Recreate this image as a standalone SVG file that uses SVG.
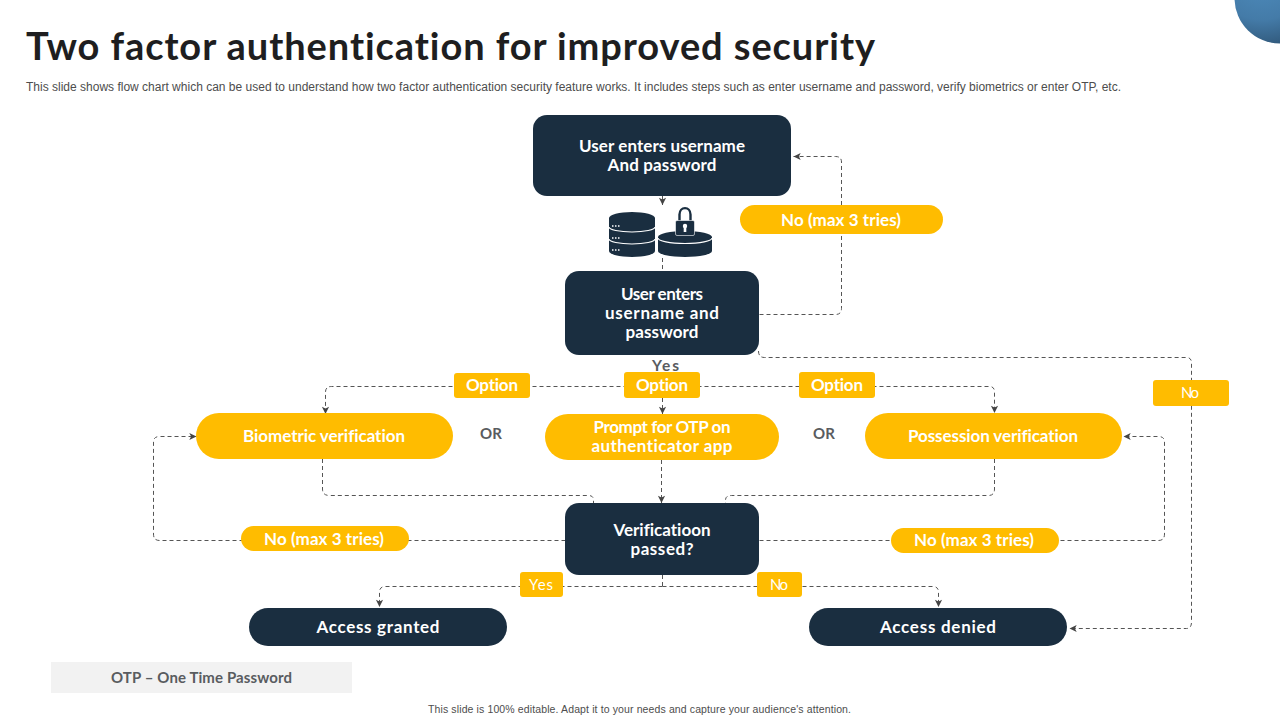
<svg xmlns="http://www.w3.org/2000/svg" width="1280" height="720" viewBox="0 0 1280 720">
<style>
text{font-family:"Lato","Open Sans","Liberation Sans",sans-serif;text-anchor:middle;font-variant-ligatures:none}
.dark{fill:#1a2e40}
.gold{fill:#ffbc00}
.t{fill:#fff;font-size:17px;font-weight:700}
.s{fill:#fff;font-size:15px;font-weight:400}
.g{fill:#595c60;font-size:15px;font-weight:700}
.c{fill:none;stroke:#555;stroke-width:1;stroke-dasharray:4 3}
.sm{font-family:"Liberation Sans",Arial,sans-serif;fill:#4d4d4d;font-size:12px;text-anchor:start}
.w{fill:none;stroke:#fff;stroke-width:1.200}
</style>
<defs>
<marker id="a" viewBox="0 0 10 10" refX="9" refY="5" markerWidth="9" markerHeight="9" markerUnits="userSpaceOnUse" orient="auto"><path d="M1 1L9 5L1 9L3 5Z" fill="#444"/></marker>
<radialGradient id="b" cx="0.3" cy="0.2" r="0.9"><stop offset="0" stop-color="#4f8fc0"/><stop offset="0.6" stop-color="#447ba8"/><stop offset="1" stop-color="#2d5272"/></radialGradient>
</defs>
<circle cx="1280" cy="-2" r="45.500" fill="url(#b)"/>
<text x="26" y="60" style="text-anchor:start;font-size:38px;font-weight:700;fill:#1e1e20" textLength="849" lengthAdjust="spacing">Two factor authentication for improved security</text>
<text class="sm" x="26" y="91" textLength="1095" lengthAdjust="spacing">This slide shows flow chart which can be used to understand how two factor authentication security feature works. It includes steps such as enter username and password, verify biometrics or enter OTP,  etc.</text>

<g id="connectors" transform="translate(0.500 0)">
<path class="c" d="M662 196V205" marker-end="url(#a)"/>
<path class="c" d="M662 258V271"/>
<path class="c" d="M759 314.500H835Q841 314.500 841 308.500V162Q841 156.500 835 156.500H793" marker-end="url(#a)"/>
<path class="c" d="M758 351Q758 357.500 764 357.500H1186Q1191 357.500 1191 363V622Q1191 628.500 1186 628.500H1069" marker-end="url(#a)"/>
<path class="c" d="M662 398V414" marker-end="url(#a)"/>
<path class="c" d="M662 386.500H331Q325 386.500 325 392V414" marker-end="url(#a)"/>
<path class="c" d="M662 386.500H989Q994 386.500 994 392V413" marker-end="url(#a)"/>
<path class="c" d="M322 459V489Q322 495.500 329 495.500H588Q593 495.500 593 500V503"/>
<path class="c" d="M994 459V489Q994 495.500 988 495.500H731Q725 495.500 725 500V503"/>
<path class="c" d="M661 460V503" marker-end="url(#a)"/>
<path class="c" d="M565 540.500H159Q153 540.500 153 534V442Q153 436.500 159 436.500H196" marker-end="url(#a)"/>
<path class="c" d="M759 540.500H1158Q1164 540.500 1164 534V442Q1164 436.500 1158 436.500H1123" marker-end="url(#a)"/>
<path class="c" d="M662 575V586"/>
<path class="c" d="M662 586.500H385Q379 586.500 379 592V607" marker-end="url(#a)"/>
<path class="c" d="M662 586.500H932Q938 586.500 938 592V607" marker-end="url(#a)"/>
</g>

<g id="n-login"><rect class="dark" x="533" y="115" width="258" height="81" rx="14"/><text class="t" x="662" y="152" textLength="166">User enters username</text><text class="t" x="662" y="171" textLength="109">And password</text></g>

<g id="n-icon">
<path class="dark" d="M609 218A23 6 0 0 1 655 218V251A23 6 0 0 1 609 251Z"/>
<path class="w" d="M609 227A23 5 0 0 0 655 227M609 239A23 5 0 0 0 655 239"/>
<path d="M612 226h8M612 238h8M612 250h8" stroke="#fff" stroke-width="1.300" stroke-dasharray="1.500 1.500" fill="none"/>
<path class="dark" d="M658 237A27 6 0 0 1 712 237V251A27 6 0 0 1 658 251Z"/>
<path class="w" d="M658 238A27 5.500 0 0 0 712 238"/>
<path d="M679.500 221V214.500C679.500 206 690.500 206 690.500 214.500V221" fill="none" stroke="#1a2e40" stroke-width="2.400"/>
<rect class="dark" x="675.500" y="220.500" width="19" height="15" rx="1.500" stroke="#fff" stroke-width="0.600"/>
<path d="M685 226V232" stroke="#fff" stroke-width="2.600"/><circle cx="685" cy="226" r="2.200" fill="#fff"/>
</g>

<g id="n-tries1"><rect class="gold" x="740" y="205" width="203" height="29" rx="14.500"/><text class="t" x="841" y="226" textLength="120">No (max 3 tries)</text></g>

<g id="n-check"><rect class="dark" x="565" y="271" width="194" height="84" rx="14"/><text class="t" x="662" y="300" textLength="82">User enters</text><text class="t" x="662" y="319" textLength="114">username and</text><text class="t" x="662" y="338" textLength="73">password</text></g>

<text class="g" x="665.500" y="371" style="font-size:15.500px" textLength="27">Yes</text>
<g id="n-no-right"><rect class="gold" x="1153" y="380" width="76" height="26" rx="3"/><text class="s" x="1190" y="398" textLength="18">No</text></g>
<g id="n-opt1"><rect class="gold" x="454" y="373" width="76" height="25" rx="3"/><text class="t" x="492" y="391" textLength="52">Option</text></g>
<g id="n-opt2"><rect class="gold" x="624" y="372" width="76" height="26" rx="3"/><text class="t" x="662" y="391" textLength="52">Option</text></g>
<g id="n-opt3"><rect class="gold" x="799" y="372" width="76" height="26" rx="3"/><text class="t" x="837" y="391" textLength="52">Option</text></g>

<g id="n-bio"><rect class="gold" x="196" y="413" width="257" height="46" rx="23"/><text class="t" x="324" y="442" textLength="162">Biometric verification</text></g>
<g id="n-otp"><rect class="gold" x="545" y="414" width="234" height="46" rx="23"/><text class="t" x="662" y="433" textLength="137">Prompt for OTP on</text><text class="t" x="662" y="452" textLength="141">authenticator app</text></g>
<g id="n-pos"><rect class="gold" x="865" y="413" width="257" height="46" rx="23"/><text class="t" x="993" y="442" textLength="170">Possession  verification</text></g>
<text class="g" x="491" y="439">OR</text>
<text class="g" x="824" y="439">OR</text>

<g id="n-verify"><rect class="dark" x="565" y="503" width="194" height="72" rx="14"/><text class="t" x="662" y="536" textLength="97">Verificatioon</text><text class="t" x="662" y="555" textLength="63">passed?</text></g>
<g id="n-tries2"><rect class="gold" x="241" y="526" width="168" height="25" rx="12.500"/><text class="t" x="324" y="545" textLength="120">No (max 3 tries)</text></g>
<g id="n-tries3"><rect class="gold" x="891" y="528" width="168" height="25" rx="12.500"/><text class="t" x="974" y="546" textLength="120">No (max 3 tries)</text></g>
<g id="n-yes"><rect class="gold" x="520" y="572" width="43" height="25" rx="3"/><text class="s" x="541" y="590" textLength="24">Yes</text></g>
<g id="n-no"><rect class="gold" x="757" y="572" width="45" height="25" rx="3"/><text class="s" x="779" y="590" textLength="18">No</text></g>
<g id="n-granted"><rect class="dark" x="249" y="608" width="258" height="38" rx="19"/><text class="t" x="378" y="633" textLength="123">Access granted</text></g>
<g id="n-denied"><rect class="dark" x="809" y="608" width="258" height="38" rx="19"/><text class="t" x="938" y="633" textLength="116">Access denied</text></g>

<g id="n-legend"><rect x="51" y="662" width="301" height="31" fill="#f2f2f2"/><text class="g" x="201.500" y="683" textLength="181">OTP – One Time Password</text></g>
<text class="sm" x="428" y="713" style="font-size:10.500px" textLength="423" lengthAdjust="spacing">This slide is 100% editable.  Adapt it to your needs and capture your audience's attention.</text>
</svg>
